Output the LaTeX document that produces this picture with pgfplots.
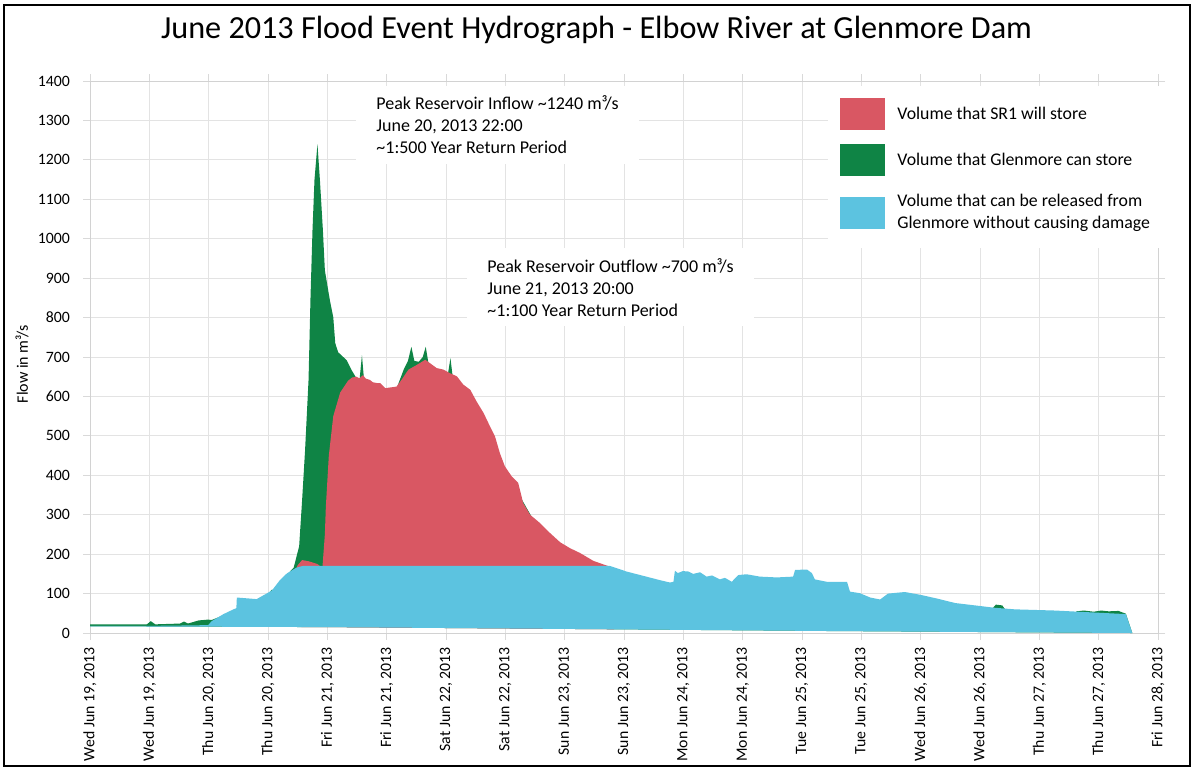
\documentclass[border=0pt]{standalone}
\usepackage{fontspec}
\setmainfont{Carlito}
\usepackage{pgfplots}
\pgfplotsset{compat=1.18}
\definecolor{redc}{HTML}{D95763}
\definecolor{greenc}{HTML}{0F8445}
\definecolor{bluec}{HTML}{5CC3E0}
\begin{document}
\begin{tikzpicture}
\useasboundingbox (-45pt,-67.5pt) rectangle (551.5pt,316.5pt);
\draw[black, line width=0.8pt] (-43pt,-66.5pt) rectangle (550pt,314pt);
\begin{axis}[
  at={(0pt,0pt)}, anchor=south west,
  scale only axis, width=534pt, height=276pt,
  xmin=0, xmax=216, ymin=0, ymax=1400,
  clip=false,
  xtick={0,12,...,216}, ytick={0,100,...,1400},
  xticklabels={{Wed Jun 19, 2013}, {Wed Jun 19, 2013}, {Thu Jun 20, 2013}, {Thu Jun 20, 2013},
    {Fri Jun 21, 2013}, {Fri Jun 21, 2013}, {Sat Jun 22, 2013}, {Sat Jun 22, 2013},
    {Sun Jun 23, 2013}, {Sun Jun 23, 2013}, {Mon Jun 24, 2013}, {Mon Jun 24, 2013},
    {Tue Jun 25, 2013}, {Tue Jun 25, 2013}, {Wed Jun 26, 2013}, {Wed Jun 26, 2013},
    {Thu Jun 27, 2013}, {Thu Jun 27, 2013}, {Fri Jun 28, 2013}},
  /pgf/number format/assume math mode=true,
  /pgf/number format/1000 sep={},
  x tick label style={rotate=90, anchor=east, font=\fontsize{7.9}{9}\selectfont},
  y tick label style={font=\fontsize{7.9}{9}\selectfont, xshift=-3pt},
  grid=major, major grid style={gray!22, line width=0.4pt},
  axis line style={gray!35, line width=0.4pt},
  tick style={gray!30, line width=0.4pt},
  tick align=outside, major tick length=3.5pt,
  title={June 2013 Flood Event Hydrograph - Elbow River at Glenmore Dam},
  title style={at={(axis description cs:0.4743,1.0707)}, anchor=center, font=\fontsize{16.1}{18}\selectfont},
  legend image code/.code={\fill[#1] (0pt,-8pt) rectangle (22.5pt,8pt);},
  legend style={at={(axis description cs:0.691,0.991)}, anchor=north west, fill=white, draw=none,
    inner xsep=6pt, inner ysep=6pt, row sep=7pt, column sep=4pt, font=\fontsize{8.9}{11}\selectfont,
    cells={anchor=west, align=left}},
  legend cell align=left,
]
% inflow (Glenmore can store), closed along the chart's base line
\addplot[fill=greenc, draw=none, forget plot] coordinates {
(0,22) (11.5,22) (12.3,30) (13.2,22) (18.2,24) (19.0,29) (19.8,24) (22,32) (23.9,34) (24.6,33)
(26,40) (29,55) (33.7,80) (34.2,89) (35,85) (36.8,110) (37.2,108) (40,150) (41.2,166)
(42.3,220) (42.9,337) (43.5,464) (44.2,642) (44.6,853) (45.0,1022) (45.4,1149) (46.0,1240)
(46.5,1149) (47.1,1022) (47.5,920) (48.5,845) (49.2,801) (49.6,735) (50.2,712) (51.9,692)
(52.9,667) (53.9,646) (54.5,640) (55.0,705) (55.4,645) (56,630) (59,615) (62.0,620) (62.6,640)
(63.5,670) (64.3,690) (65.0,726) (65.6,690) (66.5,688) (67.3,700) (67.9,726) (68.4,688) (69,670)
(72.3,650) (72.9,697) (73.4,645) (75,620) (80,500) (90,280) (100,170) (105,150) (110,120)
(118,100) (150,80) (160,70) (180,55) (182.5,62) (183.2,72) (184.5,70) (185.2,58) (190,50)
(199,45) (199.5,55) (201,57) (203,54) (204.5,57) (206,55) (208,56) (209.5,49) (210.8,0)
(150,5) (100,10) (48,15) (0,17)
} -- cycle;
% outflow (SR1 will store)
\addplot[fill=redc, draw=none, forget plot] coordinates {
(41.8,166) (42,172) (42.9,185) (44.2,182) (46,175) (47.0,165) (47.5,250) (47.7,320) (48.3,450)
(49.2,550) (50.6,610) (52.2,640) (53,648) (53.9,650) (54.5,646) (55.2,654) (55.8,645) (56.6,642)
(57.2,636) (58.0,634) (58.7,634) (59.7,621) (62.0,625) (63.0,642) (64.4,668) (66.1,680) (67.8,693)
(68.8,684) (70.1,672) (71.5,668) (72.8,659) (74.2,651) (75.5,630) (76.9,617) (78.2,587) (79.6,558)
(80.9,524) (81.9,499) (82.9,456) (83.9,423) (85.3,397) (86.6,381) (87.6,330) (89.0,300) (91.0,279)
(93.0,254) (95.1,230) (97.1,215) (99.1,203) (101.8,183) (105.2,168) (106,150)
(106,9.4) (100,10) (48,15) (41.8,15.3)
} -- cycle;
% released without damage
\addplot[fill=bluec, draw=none, forget plot] coordinates {
(0,18) (11.5,18) (18.2,19) (23.9,20) (24.6,30) (27.0,48) (29.0,60) (29.6,63) (29.7,90) (33.7,86)
(34.7,93) (36.8,108) (38.4,134) (39.8,151) (41.1,161) (41.8,166) (43,170) (105.2,170) (108.5,156)
(111.9,145) (115.3,134) (117.3,128) (118.0,130) (118.3,158) (118.9,152) (119.9,157) (121.0,156)
(122.0,150) (123.4,154) (124.7,143) (125.8,146) (127.4,136) (128.4,140) (129.8,130) (131.1,147)
(132.8,149) (135.5,143) (138.9,141) (142.2,143) (142.6,160) (145.0,161) (146.0,152) (146.6,136)
(149.0,130) (153.1,130) (153.7,105) (155.7,101) (157.8,90) (159.8,85) (161.4,100) (164.8,104)
(167.9,97) (171.1,88) (175.0,76) (179.0,70) (183.0,64) (187.1,60) (195.2,57) (203.1,52)
(209.5,48) (210.8,0)
(150,5) (100,10) (48,15) (0,17)
} -- cycle;
\addlegendimage{fill=redc, draw=none}
\addlegendentry{Volume that SR1 will store}
\addlegendimage{fill=greenc, draw=none}
\addlegendentry{Volume that Glenmore can store}
\addlegendimage{fill=bluec, draw=none}
\addlegendentry{Volume that can be released from\\Glenmore without causing damage}
\node[fill=white, anchor=north west, align=left, inner xsep=10pt, inner ysep=5pt,
  font=\fontsize{9}{11}\selectfont, xshift=-10pt, yshift=5pt] at (axis cs:57.85,1364)
  {Peak Reservoir Inflow \textasciitilde1240 m³/s\\June 20, 2013 22:00\\\textasciitilde1:500 Year Return Period};
\node[fill=white, anchor=north west, align=left, inner xsep=10pt, inner ysep=5pt,
  font=\fontsize{9}{11}\selectfont, xshift=-10pt, yshift=5pt] at (axis cs:80.3,951)
  {Peak Reservoir Outflow \textasciitilde700 m³/s\\June 21, 2013 20:00\\\textasciitilde1:100 Year Return Period};
\node[rotate=90, anchor=center, font=\fontsize{8}{9}\selectfont] at (axis description cs:-0.0637,0.487) {Flow in m³/s};
\end{axis}
\end{tikzpicture}
\end{document}
